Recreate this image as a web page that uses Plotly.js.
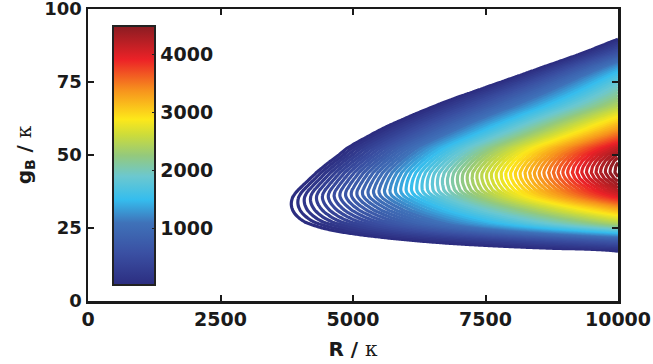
<!DOCTYPE html>
<html>
<head>
<meta charset="utf-8">
<script src="https://cdn.plot.ly/plotly-3.0.1.min.js"></script>
<style>html,body{margin:0;padding:0;background:#fff;}#chart{width:653px;height:364px;}</style>
</head>
<body>
<div id="chart"></div>
<script>
// gB / kappa rows
const gB = [15,16,17,18,19,20,21,22,23,24,25,26,27,28,29,30,31,32,33,34,35,36,37,38,40,42,44,46,48,50,52,54,56,58,60,62,64,66,68,70,72,74,76,78,80,82,84,86,88,90,92];
// R / kappa where the outermost contour sits for each row (threshold)
const thresholdR = [13500,11300,9900,8500,7250,6400,5800,5300,4880,4550,4320,4150,4010,3930,3870,3825,3795,3778,3772,3778,3794,3822,3862,3912,4030,4150,4265,4400,4540,4690,4820,5000,5200,5400,5620,5870,6120,6390,6660,6960,7280,7590,7910,8220,8530,8850,9160,9450,9725,10010,10280];
const edgeValue = [0,0,30,150,330,530,730,1000,1300,1600,1900,2180,2420,2600,2760,2920,3100,3250,3420,3600,3780,3950,4080,4180,4320,4430,4490,4480,4430,4330,4150,3880,3620,3380,3170,2950,2730,2500,2330,2170,2030,1880,1720,1530,1300,1030,730,470,230,0,0];
const xTicks = [0,2500,5000,7500,10000];
const yTicks = [0,25,50,75,100];
const cbTicks = [1000,2000,3000,4000];
const levels = {start:35, end:4480, size:70};
const cMin = 30, cMax = 4490;

const jetMuted = [
  [0.00,'#2c2d80'],[0.12,'#3a4fa2'],[0.24,'#3f72b9'],[0.33,'#35bdee'],
  [0.42,'#6cc8cf'],[0.50,'#94c97c'],[0.58,'#cddc3a'],[0.64,'#fde81a'],
  [0.75,'#f7941d'],[0.87,'#ec2227'],[1.00,'#8a1c22']
];

// slope of the value along R in each row; rows whose threshold lies beyond
// the plotted range borrow the slope of the nearest row inside it
const slope = thresholdR.map((r0, i) => r0 < 10000 && edgeValue[i] > 0 ? edgeValue[i] / (10000 - r0) : null);
for (let i = 0; i < slope.length; i++) {
  if (slope[i] === null) {
    let k = 1;
    while (slope[i - k] == null && slope[i + k] == null) k++;
    slope[i] = slope[i + k] != null ? slope[i + k] : slope[i - k];
  }
}

const rGrid = [];
for (let r = 3500; r <= 10000; r += 50) rGrid.push(r);
const z = gB.map((g, i) => rGrid.map(r => slope[i] * (r - thresholdR[i])));

const FONT = 'DejaVu Sans';
const kappa = '<span style="font-family:\'DejaVu Serif\';font-weight:normal">κ</span>';

const data = [
  {type:'contour', x:rGrid, y:gB, z:z, zmin:cMin, zmax:cMax, zauto:false,
   colorscale:jetMuted, showscale:false, hoverinfo:'skip',
   contours:{start:levels.start, end:levels.end, size:levels.size, coloring:'lines'},
   line:{width:3.2, smoothing:0.6}},
  {type:'scatter', mode:'markers', x:[null], y:[null], hoverinfo:'skip',
   marker:{color:[cMin], cmin:cMin, cmax:cMax, colorscale:jetMuted, showscale:true, size:1,
   colorbar:{x:0.047, xanchor:'left', xref:'paper', y:0.055, yanchor:'bottom', yref:'paper',
     len:0.887, lenmode:'fraction', thickness:42, thicknessmode:'pixels',
     outlinewidth:2, outlinecolor:'#222', xpad:0, ypad:0, borderwidth:0,
     ticks:'inside', ticklen:4, tickwidth:1.5, tickcolor:'#222',
     tickvals:cbTicks, ticktext:cbTicks.map(String),
     tickfont:{family:FONT, size:19, color:'#1a1a1a', weight:'bold'}}}}
];

const layout = {
  width:653, height:364,
  margin:{l:88, r:35, t:9, b:63},
  paper_bgcolor:'#fff', plot_bgcolor:'#fff',
  font:{family:FONT, size:19, color:'#1a1a1a', weight:'bold'},
  showlegend:false,
  xaxis:{range:[0,10000], tickvals:xTicks, ticktext:xTicks.map(String),
    ticks:'inside', ticklen:6, tickwidth:2, tickcolor:'#1a1a1a',
    showline:true, linewidth:2.5, linecolor:'#1a1a1a', mirror:'ticks',
    showgrid:false, zeroline:false, ticklabeloverflow:'allow',
    tickfont:{family:FONT, size:19, weight:'bold'},
    title:{text:'R / ' + kappa, font:{family:FONT, size:20, weight:'bold'}, standoff:13}},
  yaxis:{range:[0,100], tickvals:yTicks, ticktext:yTicks.map(String),
    ticks:'inside', ticklen:6, tickwidth:2, tickcolor:'#1a1a1a',
    showline:true, linewidth:2.5, linecolor:'#1a1a1a', mirror:'ticks',
    showgrid:false, zeroline:false, ticklabeloverflow:'allow',
    tickfont:{family:FONT, size:18, weight:'bold'},
    title:{text:'g<sub>B</sub> / ' + kappa, font:{family:FONT, size:20, weight:'bold'}, standoff:8}}
};

Plotly.newPlot('chart', data, layout, {staticPlot:true, displayModeBar:false});
</script>
</body>
</html>
